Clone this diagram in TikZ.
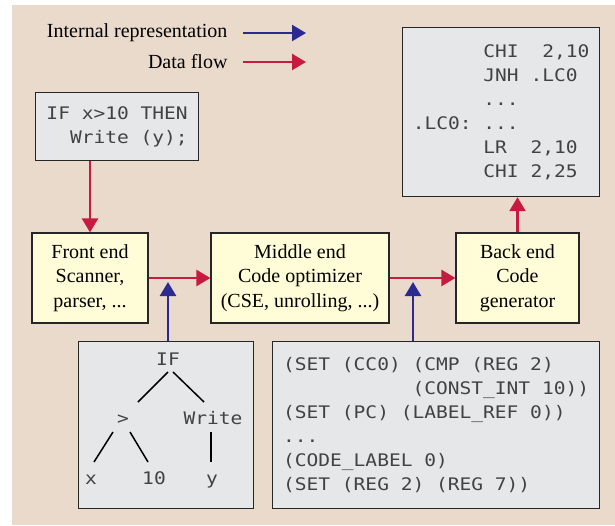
\documentclass[tikz,border=0pt]{standalone}
\usepackage{fontspec}
\setmainfont{Liberation Serif}
\newfontfamily\codefont[FakeStretch=1.13]{DejaVu Sans Mono}
\usetikzlibrary{arrows.meta}
\definecolor{bgtan}{RGB}{234,218,204}
\definecolor{boxgray}{RGB}{230,231,233}
\definecolor{boxyellow}{RGB}{255,253,215}
\definecolor{flowred}{RGB}{200,26,62}
\definecolor{repblue}{RGB}{42,42,145}
\definecolor{codeink}{RGB}{66,66,66}
\newcommand{\codesize}{\codefont\fontsize{17.3}{24}\selectfont}
\newcommand{\labelsize}{\fontsize{20}{24.5}\selectfont}

\begin{document}
\begin{tikzpicture}[x=1pt,y=-1pt,>={Triangle[length=14pt,width=16pt]},
  stage/.style={draw=black!85,line width=1.2pt,fill=boxyellow,minimum height=90pt,align=center,font=\labelsize,inner sep=0pt},
  code/.style={draw=black!85,line width=1.2pt,fill=boxgray,align=left,text=codeink,font=\codesize,inner ysep=0pt,anchor=north west},
  leaf/.style={text=codeink,font=\codesize,anchor=base,inner sep=0pt},
  flow/.style={->,draw=flowred,line width=2.4pt},
  irep/.style={->,draw=repblue,line width=2.4pt},
  twig/.style={line width=1.5pt}]
\useasboundingbox (0,0) rectangle (615,525);
\fill[bgtan] (12,5) rectangle (615,525);
\node[anchor=east,font=\labelsize] (lgrep) at (231,33) {Internal representation};
\node[anchor=east,font=\labelsize] (lgflow) at (231,62) {Data flow};
\draw[irep] ([xshift=12pt]lgrep.east) -- ++(63,0);
\draw[flow] ([xshift=12pt]lgflow.east) -- ++(63,0);
\node[code,minimum width=163pt,minimum height=68pt] (src) at (35,92) {IF x>10 THEN\\\phantom{IF}Write (y);};
\node[code,minimum width=197pt,minimum height=169pt] (asm) at (402,27) {\phantom{.LC0:~}CHI~~2,10\\\phantom{.LC0:~}JNH .LC0\\\phantom{.LC0:~}...\\.LC0:~...\\\phantom{.LC0:~}LR~~2,10\\\phantom{.LC0:~}CHI 2,25};
\node[stage,minimum width=116pt] (fe) at (90,278) {Front end\\Scanner,\\parser, ...};
\node[stage,minimum width=178pt] (me) at (300,278) {Middle end\\Code optimizer\\(CSE, unrolling, ...)};
\node[stage,minimum width=123pt] (be) at (517.5,278) {Back end\\Code\\generator};
\node[code,minimum width=175pt,minimum height=167pt] (ast) at (78,341) {};
\node[code,minimum width=327pt,minimum height=167pt] (rtl) at (272,341) {(SET (CC0) (CMP (REG 2)\\\phantom{(SET~(CC0)~}(CONST\_INT 10))\\(SET (PC) (LABEL\_REF 0))\\...\\(CODE\_LABEL 0)\\(SET (REG 2) (REG 7))};
\node[leaf] (t0) at (168,365) {IF};\node[leaf] (t1) at (123,424) {>};\node[leaf] (t2) at (213,424) {Write};
\node[leaf] (t3) at (91,484) {x};\node[leaf] (t4) at (154,484) {10};\node[leaf] (t5) at (212,484) {y};
\foreach \a/\b/\px/\py/\qx/\qy in {t0/t1/0/7/15/-22,t0/t2/5/7/-9/-22,t1/t3/-10/8/3/-22,t1/t4/7/8/-6/-22,t2/t5/-2/8/-1/-22}
  \draw[twig] ([shift={(\px,\py)}]\a.base) -- ([shift={(\qx,\qy)}]\b.base);
\draw[flow] (fe.north |- src.south) -- (fe.north);
\draw[flow] (fe) -- (me);\draw[flow] (me) -- (be);
\draw[flow] (be) -- (be.north |- asm.south);
\coordinate (j1) at (168,282);\coordinate (j2) at (413,282);
\draw[irep] (j1 |- ast.north) -- (j1);\draw[irep] (j2 |- rtl.north) -- (j2);
\end{tikzpicture}
\end{document}
